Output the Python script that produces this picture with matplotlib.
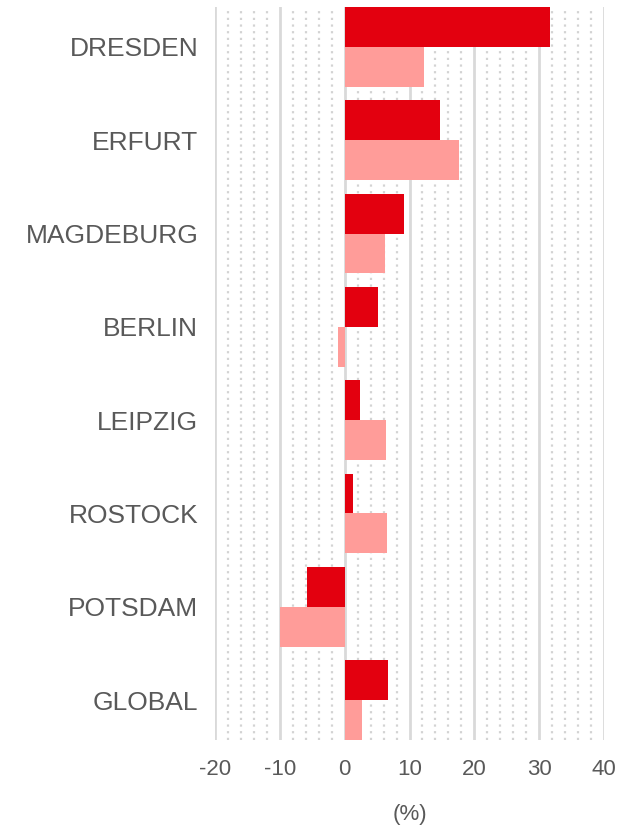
import matplotlib
matplotlib.use("Agg")
import matplotlib.pyplot as plt
import matplotlib.transforms as mtransforms
from matplotlib.ticker import MultipleLocator
import numpy as np

cities = ["DRESDEN", "ERFURT", "MAGDEBURG", "BERLIN", "LEIPZIG", "ROSTOCK", "POTSDAM", "GLOBAL"]
series_dark = [31.6, 14.7, 9.1, 5.2, 2.3, 1.3, -5.8, 6.7]
series_light = [12.3, 17.6, 6.2, -1.1, 6.4, 6.6, -10.0, 2.6]
x_ticks = [-20, -10, 0, 10, 20, 30, 40]

DARK = "#E3000F"
LIGHT = "#FF9C99"
TEXT = "#595959"

plt.rcParams["font.family"] = ["Liberation Sans", "DejaVu Sans"]

fig = plt.figure(figsize=(6.39, 8.34), dpi=100)
ax = fig.add_axes([0.3365, 0.1127, 0.6087, 0.8789])

y = np.arange(len(cities))
h = 0.428
ax.barh(y - h / 2, series_dark, height=h, color=DARK, zorder=3)
ax.barh(y + h / 2, series_light, height=h, color=LIGHT, zorder=3)

ax.set_xlim(-20, 40)
ax.set_ylim(len(cities) - 1 + h, -h)
ax.set_xticks(x_ticks)
ax.set_xticklabels([str(t) for t in x_ticks])
ax.xaxis.set_minor_locator(MultipleLocator(2))
ax.set_yticks(y)
ax.set_yticklabels(cities, va="center_baseline")

# nudge category labels up a little to sit on the bar pair's middle
shift = mtransforms.ScaledTranslation(0, 3 / 100, fig.dpi_scale_trans)
for lbl in ax.get_yticklabels():
    lbl.set_transform(lbl.get_transform() + shift)

ax.grid(axis="x", which="major", color="#D9D9D9", linewidth=2.0, zorder=1)
ax.grid(axis="x", which="minor", color="#D3D3D3", linewidth=1.6,
        linestyle=(0, (1, 2)), zorder=1)
ax.set_axisbelow(True)

for s in ax.spines.values():
    s.set_visible(False)
ax.tick_params(axis="both", which="both", length=0)
ax.tick_params(axis="x", labelsize=16, labelcolor=TEXT, pad=14)
ax.tick_params(axis="y", labelsize=19, labelcolor=TEXT, pad=12)

ax.set_xlabel("(%)", fontsize=16, color=TEXT, labelpad=17)

fig.savefig("out.png", dpi=100)
